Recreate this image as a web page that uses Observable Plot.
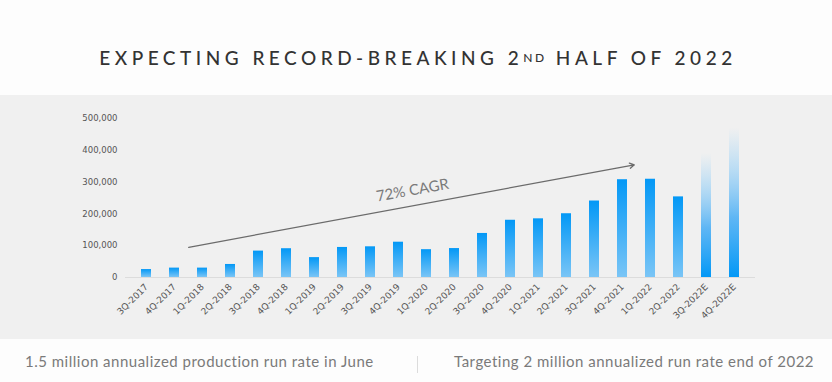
<!DOCTYPE html>
<html>
<head>
<meta charset="utf-8">
<script src="https://cdn.jsdelivr.net/npm/d3@7"></script>
<script src="https://cdn.jsdelivr.net/npm/@observablehq/plot@0.6"></script>
<style>
  html, body { margin: 0; padding: 0; background: #fdfdfd; }
  body { width: 832px; height: 382px; overflow: hidden; font-family: Lato, "Open Sans", sans-serif; }
  #title { height: 95px; display: flex; align-items: center; justify-content: center; padding-top: 20px; padding-left: 4px; box-sizing: border-box;
    font-size: 19px; letter-spacing: 4.5px; color: #333; font-weight: 500; }
  #title sup { font-size: 12px; letter-spacing: 2.5px; vertical-align: 6px; line-height: 0; }
  #panel { background: #f0f0f0; height: 244px; }
  #footer { height: 43px; position: relative; color: #7a7a7a; font-size: 15px; letter-spacing: 0.5px; white-space: nowrap; }
  #footer .l { position: absolute; left: 25px; top: 13px; }
  #footer .r { position: absolute; left: 454px; top: 13px; }
  #footer .sep { position: absolute; left: 417px; top: 17px; width: 1px; height: 17px; background: #dcdcdc; }
</style>
</head>
<body>
<div id="title">EXPECTING RECORD-BREAKING 2<sup>ND</sup>&nbsp;HALF OF 2022</div>
<div id="panel"></div>
<div id="footer">
  <span class="l">1.5 million annualized production run rate in June</span>
  <span class="sep"></span>
  <span class="r">Targeting 2 million annualized run rate end of 2022</span>
</div>
<script>
const quarters = ["3Q-2017","4Q-2017","1Q-2018","2Q-2018","3Q-2018","4Q-2018","1Q-2019","2Q-2019","3Q-2019","4Q-2019",
  "1Q-2020","2Q-2020","3Q-2020","4Q-2020","1Q-2021","2Q-2021","3Q-2021","4Q-2021","1Q-2022","2Q-2022","3Q-2022E","4Q-2022E"];
const deliveries = [25000, 29500, 29500, 41000, 83000, 90500, 62500, 94500, 96500, 111000,
  87500, 91000, 138500, 180000, 184500, 200500, 240500, 307500, 309000, 253500, 390000, 470000];
const estimated = [false,false,false,false,false,false,false,false,false,false,
  false,false,false,false,false,false,false,false,false,false,true,true];
const yTicks = [0, 100000, 200000, 300000, 400000, 500000];
const trend = [{from: "1Q-2018", fromV: 103000, to: "4Q-2021", toV: 347500}];
const trendLabel = [{q: "4Q-2019", v: 274000, text: "72% CAGR"}];

const data = quarters.map((q, i) => ({q, v: deliveries[i], est: estimated[i]}));

function defs() {
  const ns = "http://www.w3.org/2000/svg";
  const d = document.createElementNS(ns, "defs");
  const mk = (id, stops) => {
    const g = document.createElementNS(ns, "linearGradient");
    g.setAttribute("id", id);
    g.setAttribute("x1", "0"); g.setAttribute("y1", "0");
    g.setAttribute("x2", "0"); g.setAttribute("y2", "1");
    for (const [off, col, op] of stops) {
      const s = document.createElementNS(ns, "stop");
      s.setAttribute("offset", off);
      s.setAttribute("stop-color", col);
      s.setAttribute("stop-opacity", op);
      g.appendChild(s);
    }
    d.appendChild(g);
  };
  mk("gradActual", [["0", "#0398f6", 1], ["1", "#7ac5f6", 1]]);
  mk("gradEst", [["0", "#a8d7f6", 0], ["0.25", "#9fd3f6", 0.6], ["0.6", "#4fb0f5", 0.9], ["1", "#0398f6", 1]]);
  return d;
}

const axisFont = "'DejaVu Sans', Lato, sans-serif";

const chart = Plot.plot({
  width: 832,
  height: 244,
  marginLeft: 125,
  marginRight: 77,
  marginTop: 23,
  marginBottom: 62,
  style: {background: "transparent", fontFamily: "Lato, 'Open Sans', sans-serif"},
  x: {domain: quarters, paddingInner: 0.65, paddingOuter: 0.31, axis: null},
  y: {domain: [0, 500000], axis: null},
  marks: [
    defs,
    Plot.ruleY([0], {stroke: "#dcdcdc"}),
    Plot.barY(data.filter(d => !d.est), {x: "q", y: "v", fill: "url(#gradActual)"}),
    Plot.barY(data.filter(d => d.est), {x: "q", y: "v", fill: "url(#gradEst)"}),
    Plot.axisY({ticks: yTicks, tickSize: 0, tickPadding: 8, tickFormat: d3.format(","), fontSize: 8.5, fill: "#555",
      fontFamily: axisFont, style: "letter-spacing:0.3px"}),
    Plot.axisX({tickSize: 0, tickRotate: -45, tickPadding: 8, fontSize: 9, fill: "#555", fontFamily: axisFont}),
    Plot.arrow(trend, {x1: "from", y1: "fromV", x2: "to", y2: "toV", stroke: "#6b6b6b", strokeWidth: 1.3,
      headLength: 6, insetStart: -14, insetEnd: -12}),
    Plot.text(trendLabel, {x: "q", y: "v", text: "text", dx: 14, rotate: -10, fontSize: 15, fill: "#7a7a7a", style: "letter-spacing:0.4px"})
  ]
});
document.getElementById("panel").appendChild(chart);
</script>
</body>
</html>
